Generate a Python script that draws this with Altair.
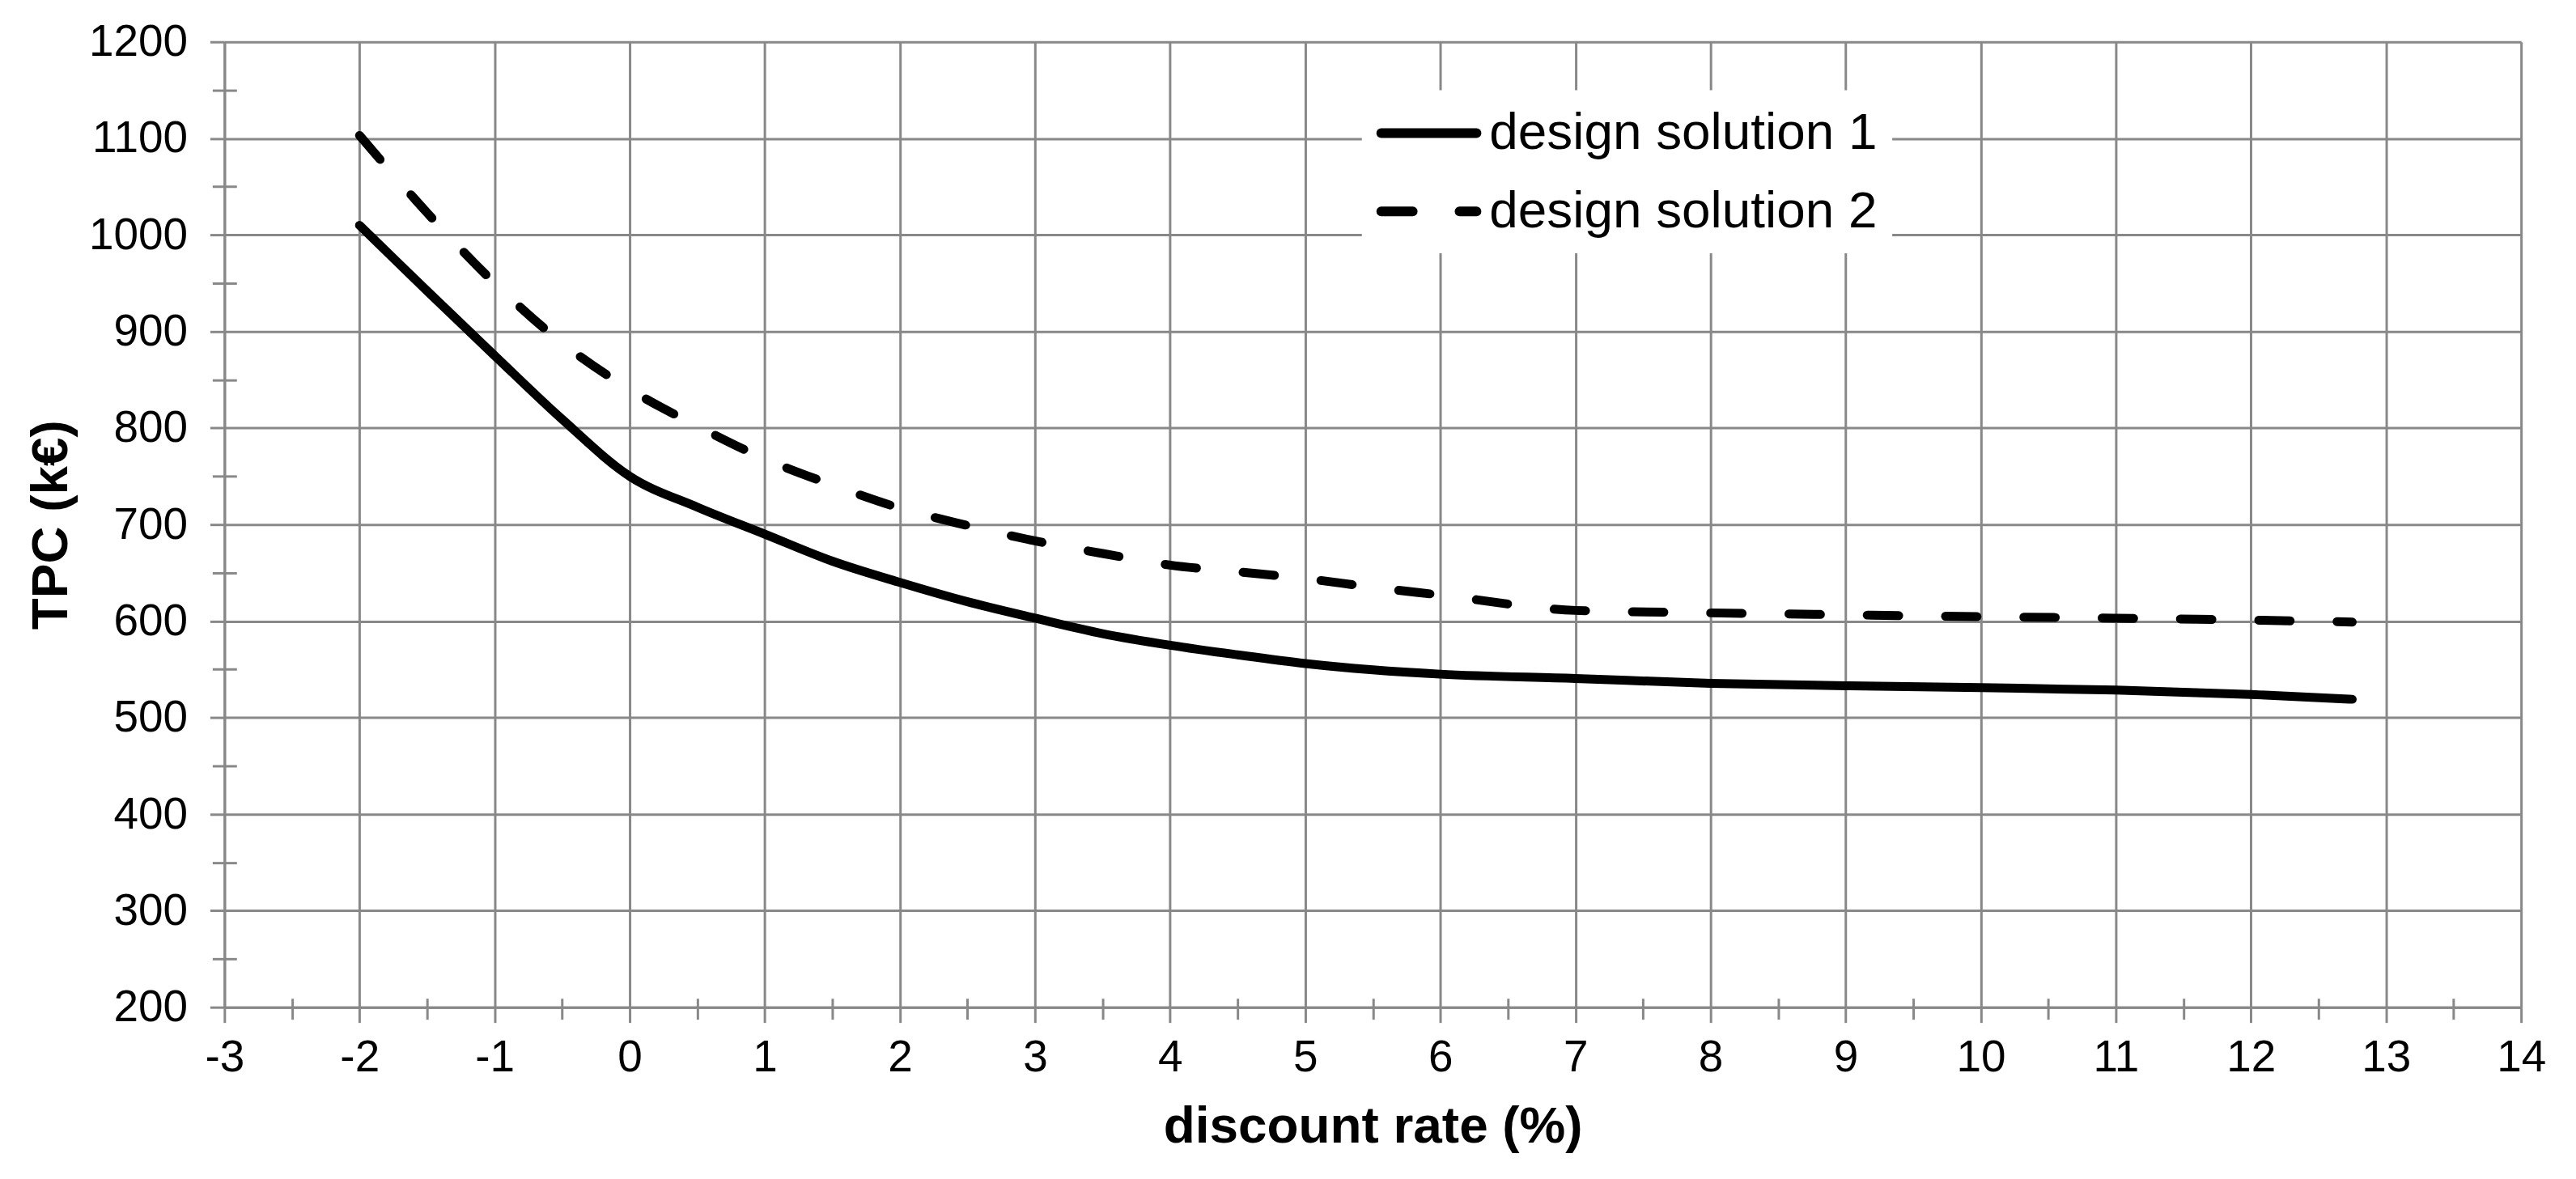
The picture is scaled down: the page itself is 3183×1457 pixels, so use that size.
import altair as alt
import pandas as pd

SERIES = ["design solution 1", "design solution 2"]
RATE = [-2, -1.5, -1, -0.5, 0, 0.5, 1, 1.5, 2, 2.5, 3, 3.5, 4, 4.5, 5, 5.5, 6, 7, 8, 9, 10, 11, 12, 12.75]
TPC_1 = [1010, 942, 875, 809, 750, 718, 690, 662, 640, 620, 603, 587, 575, 565, 556, 549.5, 545, 540.5, 535.5, 533, 531, 528.5, 524, 519]
TPC_2 = [1103, 1023, 950, 888, 840, 802, 768, 741, 717, 699, 683, 670, 658, 651, 644, 635, 627, 611, 608.5, 606.5, 604.5, 603, 601, 599]
X_TICKS = list(range(-3, 15))
Y_TICKS = list(range(200, 1201, 100))
X_MINOR = [x + 0.5 for x in range(-3, 14)]
Y_MINOR = list(range(250, 1200, 100))

df1 = pd.DataFrame({"rate": RATE, "tpc": TPC_1, "series": SERIES[0]})
df2 = pd.DataFrame({"rate": RATE, "tpc": TPC_2, "series": SERIES[1]})

FONT = "Liberation Sans"
GRID = "#888888"
W, H = 2845, 1196
LABEL = "'' + datum.value"

xs = alt.Scale(domain=[-3, 14], nice=False, zero=False)
ys = alt.Scale(domain=[200, 1200], nice=False, zero=False)

x_axis = alt.Axis(values=X_TICKS, tickSize=19, tickWidth=3, tickColor=GRID,
                  domainColor=GRID, domainWidth=3, grid=True, gridColor=GRID, gridWidth=3,
                  labelFont=FONT, labelFontSize=55, labelColor="black", labelPadding=17,
                  labelFlush=False, labelOverlap=False, labelExpr=LABEL,
                  title="discount rate (%)", titleFont=FONT, titleFontSize=64,
                  titleFontWeight="bold", titleColor="black", titleX=W / 2, titleY=167,
                  titleAlign="center", titleBaseline="alphabetic", orient="bottom")
y_axis = alt.Axis(values=Y_TICKS, tickSize=18, tickWidth=3, tickColor=GRID,
                  domainColor=GRID, domainWidth=3, grid=True, gridColor=GRID, gridWidth=3,
                  labelFont=FONT, labelFontSize=55, labelColor="black", labelPadding=28,
                  labelFlush=False, labelOverlap=False, labelExpr=LABEL,
                  title="TPC (k€)", titleFont=FONT, titleFontSize=64, titleFontWeight="bold",
                  titleColor="black", titleAngle=270, titleX=-195, titleY=H / 2,
                  titleAlign="center", titleBaseline="alphabetic", orient="left")

line1 = alt.Chart(df1).mark_line(color="black", strokeWidth=11, strokeCap="round",
                                 interpolate="monotone").encode(
    x=alt.X("rate:Q", scale=xs, axis=x_axis),
    y=alt.Y("tpc:Q", scale=ys, axis=y_axis),
)
line2 = alt.Chart(df2).mark_line(color="black", strokeWidth=11, strokeCap="round",
                                 strokeDash=[39, 58], interpolate="monotone").encode(
    x=alt.X("rate:Q", scale=xs),
    y=alt.Y("tpc:Q", scale=ys),
)

# helper layer carrying minor ticks (crossing the axes)
minor = alt.Chart(df1).mark_line(opacity=0).encode(
    x=alt.X("rate:Q", scale=xs, axis=alt.Axis(values=X_MINOR, offset=-11, tickSize=26,
                                               tickWidth=3, tickColor=GRID, domain=False,
                                               labels=False, grid=False, title=None,
                                               orient="bottom")),
    y=alt.Y("tpc:Q", scale=ys, axis=alt.Axis(values=Y_MINOR, offset=-15, tickSize=30,
                                              tickWidth=3, tickColor=GRID, domain=False,
                                              labels=False, grid=False, title=None,
                                              orient="left")),
)

one = pd.DataFrame({"k": [0]})
leg_box = alt.Chart(one).mark_rect(color="white").encode(
    x=alt.value(1409), x2=alt.value(2066), y=alt.value(60), y2=alt.value(262))
leg_l1 = alt.Chart(one).mark_rule(color="black", strokeWidth=12, strokeCap="round").encode(
    x=alt.value(1433), x2=alt.value(1551), y=alt.value(113))
leg_l2 = alt.Chart(one).mark_rule(color="black", strokeWidth=12, strokeCap="round",
                                  strokeDash=[39, 58]).encode(
    x=alt.value(1433), x2=alt.value(1551), y=alt.value(210))
leg_t1 = alt.Chart(one).mark_text(font=FONT, fontSize=64, align="left", baseline="alphabetic",
                                  color="black").encode(
    x=alt.value(1567), y=alt.value(133), text=alt.value(SERIES[0]))
leg_t2 = alt.Chart(one).mark_text(font=FONT, fontSize=64, align="left", baseline="alphabetic",
                                  color="black").encode(
    x=alt.value(1567), y=alt.value(230), text=alt.value(SERIES[1]))

base = alt.layer(line1, line2).resolve_scale(x="shared", y="shared")

chart = alt.layer(base, minor, leg_box, leg_l1, leg_l2, leg_t1, leg_t2).resolve_scale(
    x="independent", y="independent"
).properties(
    width=W, height=H, autosize="none",
    padding={"left": 270, "top": 42, "right": 60, "bottom": 203},
    background="white",
).configure_view(strokeWidth=0)

chart.save("out.html", embed_options={"renderer": "svg", "actions": False})
